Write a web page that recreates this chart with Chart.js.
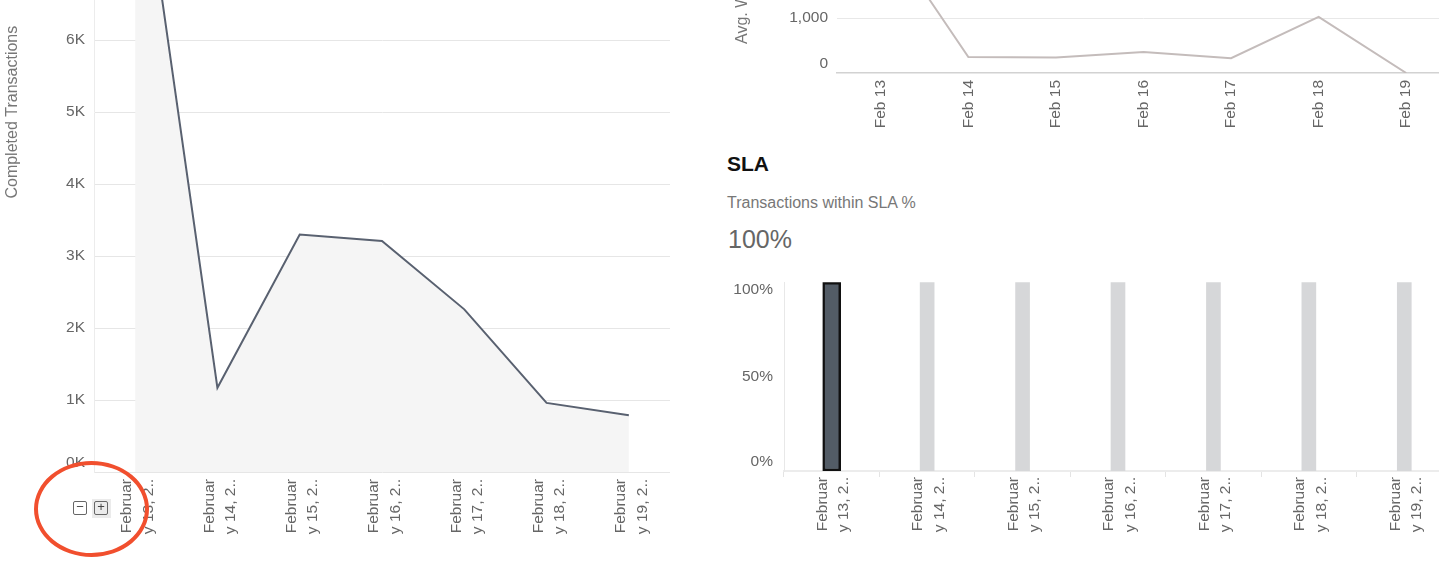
<!DOCTYPE html>
<html>
<head>
<meta charset="utf-8">
<script src="https://cdn.jsdelivr.net/npm/chart.js@4"></script>
<style>
  html, body { margin: 0; padding: 0; background: #fff; }
  body { width: 1439px; height: 577px; overflow: hidden; position: relative; font-family: "Liberation Sans", Arial, sans-serif; }
  .box { position: absolute; }
  .title { position: absolute; left: 727px; top: 152px; font-size: 21px; line-height: 24px; font-weight: bold; color: #111; }
  .subtitle { position: absolute; left: 727px; top: 194px; font-size: 16px; line-height: 18px; color: #777; }
  .kpi { position: absolute; left: 728px; top: 225px; font-size: 25px; line-height: 28px; color: #666; }
  .zoom-btn { position: absolute; width: 14px; height: 14px; box-sizing: border-box; border: 1.5px solid #666; border-radius: 2px; color: #444; font-size: 13px; line-height: 10px; text-align: center; }
  .zoom-bg { position: absolute; left: 92px; top: 499px; width: 19px; height: 19px; background: #ebebeb; }
  .mark { position: absolute; left: 34px; top: 461px; width: 115px; height: 96px; box-sizing: border-box; border: 4px solid #f14f2e; border-radius: 50%; }
</style>
</head>
<body>

<div class="box" style="left:0; top:-260px; width:680px; height:830px;"><canvas id="completed"></canvas></div>
<div class="box" style="left:720px; top:-110px; width:740px; height:243px;"><canvas id="wait"></canvas></div>

<div class="title">SLA</div>
<div class="subtitle">Transactions within SLA %</div>
<div class="kpi">100%</div>
<div class="box" style="left:720px; top:270px; width:745px; height:281px;"><canvas id="sla"></canvas></div>

<div class="zoom-bg"></div>
<div class="zoom-btn" style="left:73px; top:501px;">&minus;</div>
<div class="zoom-btn" style="left:94px; top:501px;">+</div>
<div class="mark"></div>

<script>
// days shown in all three charts
const longLabels = [
    ['Februar', 'y 13, 2..'], ['Februar', 'y 14, 2..'], ['Februar', 'y 15, 2..'],
    ['Februar', 'y 16, 2..'], ['Februar', 'y 17, 2..'], ['Februar', 'y 18, 2..'],
    ['Februar', 'y 19, 2..']
];
const shortLabels = ['Feb 13', 'Feb 14', 'Feb 15', 'Feb 16', 'Feb 17', 'Feb 18', 'Feb 19'];

// values
const completedTransactions = [9200, 1170, 3300, 3210, 2260, 960, 790];
const avgWait = [2640, 290, 280, 380, 270, 1020, 0];
const slaPercent = [100, 100, 100, 100, 100, 100, 100];
const selectedDay = 0;

const FONT = '"Liberation Sans", Arial, sans-serif';
const GREY_TEXT = '#666';
const TICK_SIZE = 15.5;

// y labels are kept inside the plot area (first/last one pushed in)
const clampTicks = {
    id: 'clampTicks',
    afterDraw(chart, args, opts) {
        const s = chart.scales.y;
        const ctx = chart.ctx;
        ctx.save();
        ctx.font = TICK_SIZE + 'px ' + FONT;
        ctx.fillStyle = GREY_TEXT;
        ctx.textAlign = 'right';
        ctx.textBaseline = 'middle';
        s.ticks.forEach((t, i) => {
            let y = s.getPixelForTick(i);
            y = Math.min(Math.max(y, s.top + 7), s.bottom - 9);
            ctx.fillText(t.label, s.right - opts.pad, y);
        });
        ctx.restore();
    }
};

Chart.defaults.font.family = FONT;
Chart.defaults.font.size = TICK_SIZE;
Chart.defaults.color = GREY_TEXT;

function xTicks(extra) {
    return Object.assign({
        autoSkip: false,
        minRotation: 90,
        maxRotation: 90,
        color: GREY_TEXT,
        font: { size: TICK_SIZE, lineHeight: 1.38 }
    }, extra);
}

// completed transactions (left)
new Chart(document.getElementById('completed'), {
    type: 'line',
    data: {
        labels: longLabels,
        datasets: [{
            data: completedTransactions,
            borderColor: '#596170',
            borderWidth: 2,
            backgroundColor: '#f5f5f5',
            fill: 'origin',
            pointRadius: 0,
            tension: 0
        }]
    },
    plugins: [clampTicks],
    options: {
        animation: false,
        responsive: true,
        maintainAspectRatio: false,
        layout: { autoPadding: false, padding: { top: 12, right: 10, left: 0, bottom: 0 } },
        plugins: { legend: { display: false }, tooltip: { enabled: false }, clampTicks: { pad: 9 } },
        scales: {
            x: {
                offset: true,
                grid: { display: false },
                border: { display: false },
                ticks: xTicks({ padding: -1, labelOffset: -8 }),
                afterFit: s => { s.height = 98; }
            },
            y: {
                min: 0, max: 10000,
                ticks: { stepSize: 1000, color: 'rgba(0,0,0,0)', callback: v => (v / 1000) + 'K' },
                grid: { color: '#e6e6e6', drawTicks: false },
                border: { color: '#ececec' },
                title: { display: true, text: 'Completed Transactions', color: '#777', font: { size: 16 }, padding: { top: 3, bottom: 0 } },
                afterFit: s => { s.width = 94; }
            }
        }
    }
});

// average wait (top right)
new Chart(document.getElementById('wait'), {
    type: 'line',
    data: {
        labels: shortLabels,
        datasets: [{
            data: avgWait,
            borderColor: '#c4bcbb',
            borderWidth: 2,
            pointRadius: 0,
            tension: 0,
            fill: false
        }]
    },
    plugins: [clampTicks],
    options: {
        animation: false,
        responsive: true,
        maintainAspectRatio: false,
        layout: { autoPadding: false, padding: { top: 18, right: 10, left: 0, bottom: 0 } },
        plugins: { legend: { display: false }, tooltip: { enabled: false }, clampTicks: { pad: 9 } },
        scales: {
            x: {
                offset: true,
                grid: { display: false },
                border: { color: '#d2d2d2', width: 1.5 },
                ticks: xTicks({ padding: -1 }),
                afterFit: s => { s.height = 60; }
            },
            y: {
                min: 0, max: 3000,
                ticks: { stepSize: 1000, color: 'rgba(0,0,0,0)', callback: v => v.toLocaleString('en-US') },
                grid: { color: ctx => ctx.tick.value === 0 ? 'rgba(0,0,0,0)' : '#e8e8e8', drawTicks: false },
                border: { display: false },
                title: { display: true, text: 'Avg. Wait Time', color: '#777', font: { size: 16 }, padding: { top: 13, bottom: 0 } },
                afterFit: s => { s.width = 117; }
            }
        }
    }
});

// SLA bars (bottom right) - selected day is drawn dark with a border
new Chart(document.getElementById('sla'), {
    type: 'bar',
    data: {
        labels: longLabels,
        datasets: [{
            data: slaPercent.map((v, i) => i === selectedDay ? v : null),
            backgroundColor: '#535c66',
            borderColor: '#111',
            borderWidth: 2.5,
            borderSkipped: false,
            barThickness: 18,
            grouped: false
        }, {
            data: slaPercent.map((v, i) => i === selectedDay ? null : v),
            backgroundColor: '#d6d7d9',
            barThickness: 14,
            grouped: false
        }]
    },
    plugins: [clampTicks],
    options: {
        animation: false,
        responsive: true,
        maintainAspectRatio: false,
        layout: { autoPadding: false, padding: { top: 11, right: 13, left: 0, bottom: 0 } },
        plugins: { legend: { display: false }, tooltip: { enabled: false }, clampTicks: { pad: 11 } },
        scales: {
            x: {
                offset: true,
                grid: { display: true, drawOnChartArea: false, offset: true, tickLength: 6, color: '#e4e4e4' },
                border: { color: '#ececec', width: 2 },
                ticks: xTicks({ padding: 0, labelOffset: -9 }),
                afterFit: s => { s.height = 80; }
            },
            y: {
                min: 0, max: 100,
                ticks: { stepSize: 50, color: 'rgba(0,0,0,0)', callback: v => v + '%' },
                grid: { display: false },
                border: { color: '#e8e8e8' },
                afterFit: s => { s.width = 64; }
            }
        }
    }
});
</script>
</body>
</html>
